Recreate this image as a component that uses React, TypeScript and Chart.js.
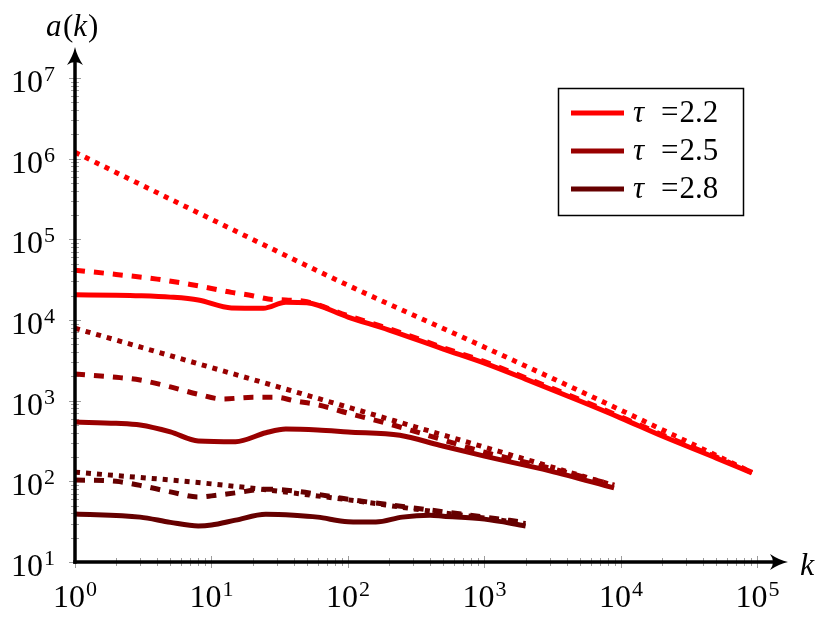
import React, { useEffect, useRef } from "react";
import { Chart, registerables } from "chart.js";

Chart.register(...registerables);

// ---------- data ----------
const k22Solid = [1, 2, 3, 5, 8, 14, 24, 35, 50, 100, 200, 500, 1000, 2000, 5000, 10000, 20000, 50000, 91000];
const a22Solid = [20500, 20300, 20000, 19200, 17700, 14100, 14000, 16600, 16300, 10870, 7500, 4360, 2920, 1850, 990, 608, 364, 194, 127];
const k22Dashed = [1, 2, 4, 7, 10, 14, 20, 26, 35, 50, 100, 200, 500, 1000, 2000, 5000, 10000, 20000, 50000, 91000];
const a22Dashed = [41500, 36700, 32100, 27600, 24600, 22000, 20000, 18200, 17700, 16800, 11300, 7800, 4530, 3040, 1920, 1030, 630, 378, 200, 129];
const k22Dotted = [1, 10, 100, 1000, 10000, 91000];
const a22Dotted = [1200000, 177000, 26900, 4600, 760, 129];

const k25Solid = [1, 2, 3, 5, 8, 15, 25, 35, 60, 100, 240, 470, 1000, 3000, 8900];
const a25Solid = [543, 525, 500, 410, 316, 310, 400, 445, 434, 410, 373, 280, 205, 135, 83];
const k25Dashed = [1, 2, 3, 5, 8, 12, 20, 30, 40, 60, 100, 200, 500, 1000, 3000, 8900];
const a25Dashed = [2140, 1950, 1800, 1480, 1200, 1050, 1100, 1100, 1000, 890, 700, 515, 325, 230, 146, 90];
const k25Dotted = [1, 10, 100, 1000, 8900];
const a25Dotted = [7900, 2570, 830, 265, 89];

const k28Solid = [1, 3, 5, 8, 10, 15, 25, 40, 60, 100, 160, 250, 400, 500, 1000, 2000];
const a28Solid = [39.4, 36, 31, 28, 28.7, 33, 39, 38, 36, 31.6, 31.3, 36, 38, 37, 34, 28];
const k28Dashed = [1, 2, 3, 5, 8, 10, 15, 25, 40, 60, 100, 300, 1000, 2000];
const a28Dashed = [104, 100, 89, 74, 64, 66, 72, 80, 76, 69, 60, 47, 36, 31];
const k28Dotted = [1, 10, 100, 300, 1000, 2000];
const a28Dotted = [130, 93, 59, 45.6, 35, 30];

const tauLabels = ["2.2", "2.5", "2.8"];
const tauColors = ["#ff0000", "#990000", "#660000"];
const xExponents = [0, 1, 2, 3, 4, 5];
const yExponents = [1, 2, 3, 4, 5, 6, 7];
const xTitle = "k";
const yTitle = ["a", "(", "k", ")"];

// ---------- styling ----------
const SERIF = '"Liberation Serif", "DejaVu Serif", serif';
const X_MIN = 1;
const X_MAX = 1.673e5;
const Y_MIN = 10;
const Y_MAX = 2.42e7;
const DOTTED = [5, 6];
const DASHED = [10, 9];
const LW = 5;

function pts(ks: number[], as: number[]) {
  return ks.map((k, i) => ({ x: k, y: as[i] }));
}

function buildLogTicks(maxExp: number, minExp: number) {
  const t: { value: number }[] = [];
  for (let e = minExp; e <= maxExp; e++) {
    for (let m = 1; m <= 9; m++) {
      const v = m * Math.pow(10, e);
      if (v <= Math.pow(10, maxExp) + 1e-9) t.push({ value: v });
    }
  }
  return t;
}

function isMajor(v: number) {
  const l = Math.log10(v);
  return Math.abs(l - Math.round(l)) < 1e-9;
}

function drawArrow(ctx: CanvasRenderingContext2D, x: number, y: number, angle: number) {
  ctx.save();
  ctx.translate(x, y);
  ctx.rotate(angle);
  ctx.beginPath();
  ctx.moveTo(0, 0);
  ctx.quadraticCurveTo(-9, -2, -18, -8);
  ctx.quadraticCurveTo(-12, 0, -18, 8);
  ctx.quadraticCurveTo(-9, 2, 0, 0);
  ctx.closePath();
  ctx.fillStyle = "#000";
  ctx.fill();
  ctx.restore();
}

function drawPow(ctx: CanvasRenderingContext2D, e: number, x: number, baseline: number, align: string) {
  const baseFont = `32px ${SERIF}`;
  const supFont = `22px ${SERIF}`;
  ctx.font = baseFont;
  const wb = ctx.measureText("10").width;
  ctx.font = supFont;
  const ws = ctx.measureText(String(e)).width;
  const total = wb + 1 + ws;
  const x0 = align === "right" ? x - total : x - total / 2;
  ctx.fillStyle = "#000";
  ctx.textAlign = "left";
  ctx.textBaseline = "alphabetic";
  ctx.font = baseFont;
  ctx.fillText("10", x0, baseline);
  ctx.font = supFont;
  ctx.fillText(String(e), x0 + wb + 1, baseline - 11);
}

const axesPlugin = {
  id: "latexAxes",
  beforeDatasetsDraw(chart: any) {
    const { ctx, chartArea: ca, scales } = chart;
    const xs = scales.x;
    const ys = scales.y;
    ctx.save();
    ctx.strokeStyle = "#9c9c9c";
    ctx.lineWidth = 1;
    for (const t of xs.ticks) {
      const px = Math.round(xs.getPixelForValue(t.value)) + 0.5;
      const L = isMajor(t.value) ? 6 : 4;
      ctx.beginPath();
      ctx.moveTo(px, ca.bottom - L);
      ctx.lineTo(px, ca.bottom + L);
      ctx.stroke();
    }
    for (const t of ys.ticks) {
      const py = Math.round(ys.getPixelForValue(t.value)) + 0.5;
      const L = isMajor(t.value) ? 6 : 4;
      ctx.beginPath();
      ctx.moveTo(ca.left - L, py);
      ctx.lineTo(ca.left + L, py);
      ctx.stroke();
    }
    ctx.restore();
  },
  afterDatasetsDraw(chart: any) {
    const { ctx, chartArea: ca, scales } = chart;
    const xs = scales.x;
    const ys = scales.y;
    ctx.save();
    // axis lines
    ctx.strokeStyle = "#000";
    ctx.lineWidth = 3.5;
    ctx.lineCap = "butt";
    ctx.beginPath();
    ctx.moveTo(ca.left - 1.75, ca.bottom);
    ctx.lineTo(ca.right - 10, ca.bottom);
    ctx.stroke();
    ctx.beginPath();
    ctx.moveTo(ca.left, ca.bottom + 1.75);
    ctx.lineTo(ca.left, ca.top + 10);
    ctx.stroke();
    drawArrow(ctx, ca.right, ca.bottom, 0);
    drawArrow(ctx, ca.left, ca.top, -Math.PI / 2);

    // tick labels
    for (const e of xExponents) {
      const px = xs.getPixelForValue(Math.pow(10, e));
      drawPow(ctx, e, px, ca.bottom + 45, "center");
    }
    for (const e of yExponents) {
      const py = ys.getPixelForValue(Math.pow(10, e));
      drawPow(ctx, e, ca.left - 20, py + 14, "right");
    }

    // axis titles
    ctx.fillStyle = "#000";
    ctx.textBaseline = "alphabetic";
    ctx.textAlign = "left";
    let tx = 46;
    const yFonts = [`italic 31px ${SERIF}`, `31px ${SERIF}`, `italic 31px ${SERIF}`, `31px ${SERIF}`];
    yTitle.forEach((s, i) => {
      ctx.font = yFonts[i];
      ctx.fillText(s, tx, 36);
      tx += ctx.measureText(s).width + (i === 0 ? 1.5 : i === 2 ? 1 : 0);
    });
    ctx.font = `italic 32px ${SERIF}`;
    ctx.fillText(xTitle, 800, 575);

    // legend
    const bx = 558.5, by = 88.5, bw = 185, bh = 127;
    ctx.fillStyle = "#fff";
    ctx.fillRect(bx, by, bw, bh);
    ctx.strokeStyle = "#000";
    ctx.lineWidth = 1.5;
    ctx.strokeRect(bx, by, bw, bh);
    tauLabels.forEach((lab, i) => {
      const ry = 113 + i * 38;
      ctx.strokeStyle = tauColors[i];
      ctx.lineWidth = 5;
      ctx.beginPath();
      ctx.moveTo(571, ry);
      ctx.lineTo(624, ry);
      ctx.stroke();
      ctx.fillStyle = "#000";
      ctx.font = `italic 31px ${SERIF}`;
      ctx.fillText("τ", 633, ry + 9);
      ctx.font = `31px ${SERIF}`;
      ctx.fillText("=", 661, ry + 9);
      const we = ctx.measureText("=").width;
      ctx.fillText(lab, 661 + we + 1, ry + 9);
    });
    ctx.restore();
  },
};

function series(label: string, ks: number[], as: number[], color: string, dash: number[]) {
  return {
    label,
    data: pts(ks, as),
    borderColor: color,
    backgroundColor: color,
    borderWidth: LW,
    borderDash: dash,
    borderCapStyle: "butt",
    borderJoinStyle: "round",
    pointRadius: 0,
    pointHoverRadius: 0,
    fill: false,
    cubicInterpolationMode: "monotone",
  };
}

export default function App() {
  const ref = useRef<HTMLCanvasElement>(null);
  useEffect(() => {
    document.body.style.margin = "0";
    const canvas = ref.current!;
    const chart = new Chart(canvas, {
      type: "line",
      data: {
        datasets: [
          series("τ =2.2", k22Solid, a22Solid, tauColors[0], []),
          series("τ =2.2 dashed", k22Dashed, a22Dashed, tauColors[0], DASHED),
          series("τ =2.2 dotted", k22Dotted, a22Dotted, tauColors[0], DOTTED),
          series("τ =2.5", k25Solid, a25Solid, tauColors[1], []),
          series("τ =2.5 dashed", k25Dashed, a25Dashed, tauColors[1], DASHED),
          series("τ =2.5 dotted", k25Dotted, a25Dotted, tauColors[1], DOTTED),
          series("τ =2.8", k28Solid, a28Solid, tauColors[2], []),
          series("τ =2.8 dashed", k28Dashed, a28Dashed, tauColors[2], DASHED),
          series("τ =2.8 dotted", k28Dotted, a28Dotted, tauColors[2], DOTTED),
        ] as any,
      },
      options: {
        responsive: false,
        animation: false,
        devicePixelRatio: 1,
        layout: { padding: { left: 0, top: 47, right: 42, bottom: 0 } },
        plugins: { legend: { display: false }, tooltip: { enabled: false } },
        scales: {
          x: {
            type: "logarithmic",
            min: X_MIN,
            max: X_MAX,
            grid: { display: false },
            border: { display: false },
            ticks: { display: false },
            afterBuildTicks: (s: any) => {
              s.ticks = buildLogTicks(5, 0);
            },
            afterFit: (s: any) => {
              s.height = 56;
            },
          },
          y: {
            type: "logarithmic",
            min: Y_MIN,
            max: Y_MAX,
            grid: { display: false },
            border: { display: false },
            ticks: { display: false },
            afterBuildTicks: (s: any) => {
              s.ticks = buildLogTicks(7, 1);
            },
            afterFit: (s: any) => {
              s.width = 75;
            },
          },
        },
      } as any,
      plugins: [axesPlugin],
    });
    return () => chart.destroy();
  }, []);
  return <canvas ref={ref} width={830} height={618} style={{ display: "block" }} />;
}
